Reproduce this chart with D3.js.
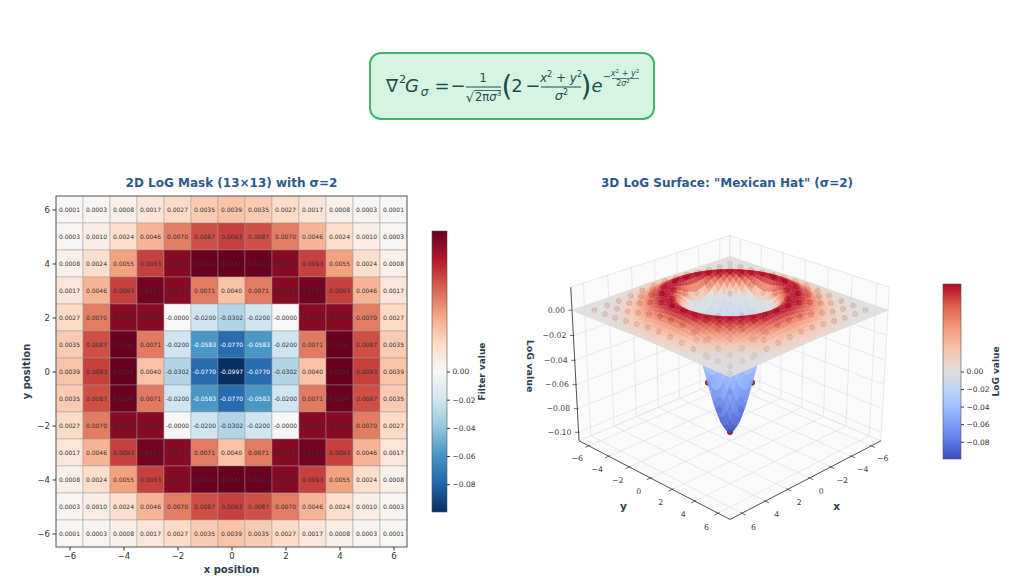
<!DOCTYPE html>
<html><head><meta charset="utf-8">
<script src="https://cdn.jsdelivr.net/npm/d3@7"></script>
<style>
body{margin:0;background:#fff;}
svg{display:block;font-family:"DejaVu Sans",sans-serif;}
</style></head>
<body><svg id="chart" width="1024" height="581"></svg>
<script>
// ---------------- DATA ----------------
const sigma = 2;
const xPositions = [-6,-5,-4,-3,-2,-1,0,1,2,3,4,5,6];
const yPositions = [6,5,4,3,2,1,0,-1,-2,-3,-4,-5,-6]; // rows, top to bottom
const logMask = [
 [0.0001,0.0003,0.0008,0.0017,0.0027,0.0035,0.0039,0.0035,0.0027,0.0017,0.0008,0.0003,0.0001],
 [0.0003,0.0010,0.0024,0.0046,0.0070,0.0087,0.0093,0.0087,0.0070,0.0046,0.0024,0.0010,0.0003],
 [0.0008,0.0024,0.0055,0.0093,0.0123,0.0134,0.0135,0.0134,0.0123,0.0093,0.0055,0.0024,0.0008],
 [0.0017,0.0046,0.0093,0.0131,0.0123,0.0071,0.0040,0.0071,0.0123,0.0131,0.0093,0.0046,0.0017],
 [0.0027,0.0070,0.0123,0.0123,-0.0000,-0.0200,-0.0302,-0.0200,-0.0000,0.0123,0.0123,0.0070,0.0027],
 [0.0035,0.0087,0.0134,0.0071,-0.0200,-0.0583,-0.0770,-0.0583,-0.0200,0.0071,0.0134,0.0087,0.0035],
 [0.0039,0.0093,0.0135,0.0040,-0.0302,-0.0770,-0.0997,-0.0770,-0.0302,0.0040,0.0135,0.0093,0.0039],
 [0.0035,0.0087,0.0134,0.0071,-0.0200,-0.0583,-0.0770,-0.0583,-0.0200,0.0071,0.0134,0.0087,0.0035],
 [0.0027,0.0070,0.0123,0.0123,-0.0000,-0.0200,-0.0302,-0.0200,-0.0000,0.0123,0.0123,0.0070,0.0027],
 [0.0017,0.0046,0.0093,0.0131,0.0123,0.0071,0.0040,0.0071,0.0123,0.0131,0.0093,0.0046,0.0017],
 [0.0008,0.0024,0.0055,0.0093,0.0123,0.0134,0.0135,0.0134,0.0123,0.0093,0.0055,0.0024,0.0008],
 [0.0003,0.0010,0.0024,0.0046,0.0070,0.0087,0.0093,0.0087,0.0070,0.0046,0.0024,0.0010,0.0003],
 [0.0001,0.0003,0.0008,0.0017,0.0027,0.0035,0.0039,0.0035,0.0027,0.0017,0.0008,0.0003,0.0001]
];
// radial profile of the 3D surface (value vs distance from centre)
const surfaceRadius = [0,0.25,0.5,0.75,1,1.25,1.5,1.75,2,2.25,2.5,2.75,3,3.25,3.5,3.75,4,4.25,4.5,4.75,5,5.25,5.5,5.75,6,6.25,6.5,6.75,7,7.25,7.5,7.75,8,8.25,8.5,8.75,9,9.5,10.5];
const surfaceProfile = [-0.0997,-0.0982,-0.0936,-0.0864,-0.0770,-0.0660,-0.0541,-0.0420,-0.0302,-0.0195,-0.0100,-0.0021,0.0040,0.0085,0.0115,0.0130,0.0135,0.0131,0.0122,0.0108,0.0093,0.0078,0.0063,0.0050,0.0039,0.0029,0.0022,0.0016,0.0011,0.0008,0.0005,0.0004,0.0002,0.00015,0.0001,0.00006,0.00004,0.00001,0.0];
const heatTicks = [-6,-4,-2,0,2,4,6];
const colorbarTicks = [0,-0.02,-0.04,-0.06,-0.08];
const zTicks = [0,-0.02,-0.04,-0.06,-0.08,-0.10];
const xyTicks3d = [-6,-4,-2,0,2,4,6];
const titleLeft = "2D LoG Mask (13\u00d713) with \u03c3=2";
const titleRight = "3D LoG Surface: \"Mexican Hat\" (\u03c3=2)";

// ---------------- STYLE / HELPERS ----------------
const svg = d3.select("#chart");
const titleColor = "#2a5a8c", labelColor = "#2c3e50", tickColor = "#333";
const vmin = d3.min(logMask.flat()), vmax = d3.max(logMask.flat());
const rdbuR = d3.piecewise(d3.interpolateRgb, ["#053061","#2166ac","#4393c3","#92c5de","#d1e5f0","#f7f7f7","#fddbc7","#f4a582","#d6604d","#b2182b","#67001f"]);
const coolwarm = d3.piecewise(d3.interpolateRgb, ["#3b4cc0","#6282ea","#8db0fe","#b8d0f9","#dddddd","#f5c4ad","#f49a7b","#de604d","#b40426"]);
const norm = d3.scaleLinear().domain([vmin, 0, vmax]).range([0, 0.5, 1]).clamp(true);

// ---------------- FORMULA ----------------
(function(){
  const fc = "#1d4e4e";
  const F = svg.append("g").attr("fill", fc);
  F.append("rect").attr("x",370).attr("y",53).attr("width",284).attr("height",66).attr("rx",11)
    .attr("fill","#d7f4e3").attr("stroke","#3fb46a").attr("stroke-width",2);
  const t = (x,y,s,size,it,anchor) => F.append("text").attr("x",x).attr("y",y).attr("font-size",size)
     .attr("font-style", it ? "italic" : "normal").attr("text-anchor", anchor || "middle").text(s);
  const bar = (x1,x2,y,w) => F.append("line").attr("x1",x1).attr("x2",x2).attr("y1",y).attr("y2",y).attr("stroke",fc).attr("stroke-width",w);
  t(392,92,"\u2207",18); t(402.5,83,"2",11); t(412,92,"G",18,true); t(424.5,96,"\u03c3",12,true);
  t(442,92,"=",18); t(458,92,"\u2212",18);
  t(483,82,"1",12); bar(466,501,87,1);
  t(470,102,"\u221a",13); bar(474,501,90.5,0.8);
  const d1 = F.append("text").attr("x",475).attr("y",101).attr("font-size",11.5);
  d1.append("tspan").text("2\u03c0"); d1.append("tspan").attr("font-style","italic").text("\u03c3");
  d1.append("tspan").attr("font-size",7.5).attr("dy",-5).text("3");
  t(507,96,"(",28); t(517,92,"2",18); t(533,92,"\u2212",18); t(586,96,")",28);
  const xy = (x,y,size,sup) => { const e = F.append("text").attr("x",x).attr("y",y).attr("font-size",size).attr("text-anchor","middle");
    e.append("tspan").attr("font-style","italic").text("x"); e.append("tspan").attr("font-size",sup).attr("dy",-size*0.4).text("2");
    e.append("tspan").attr("dy",size*0.4).text(" + "); e.append("tspan").attr("font-style","italic").text("y");
    e.append("tspan").attr("font-size",sup).attr("dy",-size*0.4).text("2"); };
  xy(561,82,12,8); bar(541,581,87,1);
  const s2 = F.append("text").attr("x",561.5).attr("y",100).attr("font-size",13).attr("text-anchor","middle");
  s2.append("tspan").attr("font-style","italic").text("\u03c3"); s2.append("tspan").attr("font-size",8).attr("dy",-5).text("2");
  t(597,92,"e",18,true);
  t(607,80,"\u2212",10);
  xy(625,76,8,5.5); bar(612,639,78.5,0.7);
  const s3 = F.append("text").attr("x",623,).attr("y",86).attr("font-size",8).attr("text-anchor","middle");
  s3.append("tspan").text("2"); s3.append("tspan").attr("font-style","italic").text("\u03c3"); s3.append("tspan").attr("font-size",5.5).attr("dy",-3).text("2");
})();

// ---------------- HEATMAP ----------------
const hx = d3.scaleLinear().domain([-6.5,6.5]).range([56,407]);
const hy = d3.scaleLinear().domain([-6.5,6.5]).range([547,196]);
const cells = [];
yPositions.forEach((yv,i) => xPositions.forEach((xv,j) => cells.push({x:xv, y:yv, v:logMask[i][j]})));
const H = svg.append("g");
H.selectAll("rect.cell").data(cells).join("rect").attr("class","cell")
  .attr("x", d => hx(d.x-0.5)).attr("y", d => hy(d.y+0.5))
  .attr("width", d => hx(d.x+0.5)-hx(d.x-0.5)).attr("height", d => hy(d.y-0.5)-hy(d.y+0.5))
  .attr("fill", d => rdbuR(norm(d.v))).attr("stroke","rgba(150,150,150,0.45)").attr("stroke-width",1);
const fmtCell = v => ((v < 0 || Object.is(v,-0)) ? "-" : "") + Math.abs(v).toFixed(4);
H.selectAll("text.val").data(cells).join("text").attr("class","val")
  .attr("x", d => hx(d.x)).attr("y", d => hy(d.y)+2).attr("text-anchor","middle")
  .attr("font-size",6).attr("fill", d => d.v < -0.05 ? "#ffffff" : "#333").text(d => fmtCell(d.v));
H.append("rect").attr("x",hx(-6.5)).attr("y",hy(6.5)).attr("width",hx(6.5)-hx(-6.5)).attr("height",hy(-6.5)-hy(6.5))
  .attr("fill","none").attr("stroke","#666").attr("stroke-width",1);
const styleAxis = (g, fs) => { g.select(".domain").remove(); g.selectAll("text").attr("font-size",fs).attr("fill",tickColor).attr("font-family","DejaVu Sans");
  g.selectAll("line").attr("stroke",tickColor); };
H.append("g").attr("transform","translate(0,547)").call(d3.axisBottom(hx).tickValues(heatTicks).tickSize(3.5).tickPadding(2.5).tickFormat(d3.format("d"))).call(g=>styleAxis(g,8.5));
H.append("g").attr("transform","translate(56,0)").call(d3.axisLeft(hy).tickValues(heatTicks).tickSize(3.5).tickPadding(2.5).tickFormat(d3.format("d"))).call(g=>styleAxis(g,8.5));
svg.append("text").attr("x",231.5).attr("y",187).attr("text-anchor","middle").attr("font-size",12).attr("font-weight","bold").attr("fill",titleColor).text(titleLeft);
svg.append("text").attr("x",231.5).attr("y",573).attr("text-anchor","middle").attr("font-size",10).attr("font-weight","bold").attr("fill",labelColor).text("x position");
svg.append("text").attr("transform","translate(30,371.5) rotate(-90)").attr("text-anchor","middle").attr("font-size",10).attr("font-weight","bold").attr("fill",labelColor).text("y position");

// ---------------- COLORBARS ----------------
const defs = svg.append("defs");
function colorbar(id, cmap, x, w, y0, y1, label, labelX){
  const grad = defs.append("linearGradient").attr("id",id).attr("x1",0).attr("x2",0).attr("y1",1).attr("y2",0);
  d3.range(0,1.0001,0.02).forEach(s => grad.append("stop").attr("offset",s).attr("stop-color",cmap(s)));
  svg.append("rect").attr("x",x).attr("y",y0).attr("width",w).attr("height",y1-y0).attr("fill",`url(#${id})`).attr("stroke","#555").attr("stroke-width",0.6);
  const cs = d3.scaleLinear().domain([vmin,0,vmax]).range([y1,(y0+y1)/2,y0]);
  svg.append("g").attr("transform",`translate(${x+w},0)`).call(d3.axisRight(cs).tickValues(colorbarTicks).tickSize(3).tickPadding(2.5).tickFormat(d3.format(".2f"))).call(g=>styleAxis(g,7.5));
  svg.append("text").attr("transform",`translate(${labelX},${(y0+y1)/2}) rotate(-90)`).attr("text-anchor","middle").attr("font-size",9).attr("font-weight","bold").attr("fill",labelColor).text(label);
}
colorbar("cb1", rdbuR, 432, 15, 231, 512, "Filter value", 485);
colorbar("cb2", coolwarm, 943, 18, 284, 459, "LoG value", 999);

// ---------------- 3D SURFACE ----------------
const L = 7, zLim = [-0.1073, 0.018];
const view = {cx:730, cy:366, k:109.6, elev:24.5*Math.PI/180, azim:45*Math.PI/180, D:12, hz:0.77};
const us = d3.scaleLinear().domain([-L,L]).range([-1,1]);
const ws = d3.scaleLinear().domain(zLim).range([-view.hz, view.hz]);
const ce = Math.cos(view.elev), se = Math.sin(view.elev), ca = Math.cos(view.azim), sa = Math.sin(view.azim);
function proj(x,y,z){
  const u = us(x), v = us(y), w = ws(z);
  const sx = -u*sa + v*ca;
  const sy = -u*se*ca - v*se*sa + w*ce;
  const depth = u*ce*ca + v*ce*sa + w*se;
  const f = view.D/(view.D - depth);
  return [view.cx + view.k*sx*f, view.cy - view.k*sy*f, depth];
}
const S = svg.append("g");
const [zmin, zmax] = zLim;
// panes
const pane = pts => S.append("path").attr("d","M"+pts.map(p=>proj(...p).slice(0,2).join(",")).join("L")+"Z")
   .attr("fill","#fafafa").attr("stroke","#e2e2e2").attr("stroke-width",0.8);
pane([[-L,-L,zmin],[L,-L,zmin],[L,L,zmin],[-L,L,zmin]]);
pane([[L,-L,zmin],[-L,-L,zmin],[-L,-L,zmax],[L,-L,zmax]]);
pane([[-L,-L,zmin],[-L,L,zmin],[-L,L,zmax],[-L,-L,zmax]]);
const seg = (a,b,color,w) => { const p=proj(...a), q=proj(...b);
  S.append("line").attr("x1",p[0]).attr("y1",p[1]).attr("x2",q[0]).attr("y2",q[1]).attr("stroke",color).attr("stroke-width",w); };
const gridC = "#e3e3e3";
xyTicks3d.forEach(t => { seg([t,-L,zmin],[t,L,zmin],gridC,0.8); seg([t,-L,zmin],[t,-L,zmax],gridC,0.8);
  seg([-L,t,zmin],[L,t,zmin],gridC,0.8); seg([-L,t,zmin],[-L,t,zmax],gridC,0.8); });
zTicks.forEach(t => { seg([-L,-L,t],[L,-L,t],gridC,0.8); seg([-L,-L,t],[-L,L,t],gridC,0.8); });
// axis lines
const axC = "#444";
seg([L,-L,zmin],[L,-L,zmax],axC,0.9);
seg([L,-L,zmin],[L,L,zmin],axC,0.9);
seg([-L,L,zmin],[L,L,zmin],axC,0.9);
const t3 = "#445";
xyTicks3d.forEach(t => {
  seg([t,L-0.12,zmin],[t,L+0.3,zmin],axC,0.8);
  seg([L-0.12,t,zmin],[L+0.3,t,zmin],axC,0.8);
  const a = proj(t, L+0.95, zmin), b = proj(L+0.95, t, zmin);
  const fmt = d3.format("d");
  S.append("text").attr("x",a[0]).attr("y",a[1]+10.5).attr("text-anchor","middle").attr("font-size",7.8).attr("fill",t3).text(fmt(t));
  S.append("text").attr("x",b[0]).attr("y",b[1]+10.5).attr("text-anchor","middle").attr("font-size",7.8).attr("fill",t3).text(fmt(t));
});
zTicks.forEach(t => { const p = proj(L,-L,t);
  S.append("line").attr("x1",p[0]-3.5).attr("x2",p[0]+1).attr("y1",p[1]).attr("y2",p[1]).attr("stroke",axC).attr("stroke-width",0.8);
  S.append("text").attr("x",p[0]-7).attr("y",p[1]+2.8).attr("text-anchor","end").attr("font-size",7.8).attr("fill",t3).text(d3.format(".2f")(t)); });
{ const a = proj(0, L+2.2, zmin), b = proj(L+2.2, 0, zmin);
  S.append("text").attr("x",a[0]).attr("y",a[1]+20).attr("text-anchor","middle").attr("font-size",10.5).attr("font-weight","bold").attr("fill",labelColor).text("x");
  S.append("text").attr("x",b[0]).attr("y",b[1]+20).attr("text-anchor","middle").attr("font-size",10.5).attr("font-weight","bold").attr("fill",labelColor).text("y"); }
S.append("text").attr("transform","translate(527,366) rotate(90)").attr("text-anchor","middle").attr("font-size",9.5).attr("font-weight","bold").attr("fill",labelColor).text("LoG value");
// scatter of mask points (drawn beneath the translucent surface)
S.append("g").selectAll("circle").data(cells).join("circle")
  .attr("cx", d => proj(d.x,d.y,d.v)[0]).attr("cy", d => proj(d.x,d.y,d.v)[1]).attr("r",2.6)
  .attr("fill","#b83228").attr("stroke","#2a2a2a").attr("stroke-width",0.8);
// surface
const profile = d3.scaleLinear().domain(surfaceRadius).range(surfaceProfile);
const N = 50;
const grid = d3.range(N+1).map(i => -L + 2*L*i/N);
const quads = [];
for (let i=0;i<N;i++) for (let j=0;j<N;j++){
  const corners = [[grid[i],grid[j]],[grid[i+1],grid[j]],[grid[i+1],grid[j+1]],[grid[i],grid[j+1]]]
     .map(([x,y]) => [x,y,profile(Math.hypot(x,y))]);
  const pp = corners.map(c => proj(...c));
  quads.push({pts:pp, depth:d3.mean(pp,p=>p[2]), z:d3.mean(corners,c=>c[2])});
}
quads.sort((a,b) => a.depth - b.depth);
const surf = S.append("g").attr("opacity",0.92);
surf.selectAll("path").data(quads).join("path")
  .attr("d", q => "M"+q.pts.map(p=>p[0].toFixed(2)+","+p[1].toFixed(2)).join("L")+"Z")
  .attr("fill", q => coolwarm(norm(q.z))).attr("stroke", q => coolwarm(norm(q.z))).attr("stroke-width",0.35);
svg.append("text").attr("x",727).attr("y",187).attr("text-anchor","middle").attr("font-size",12).attr("font-weight","bold").attr("fill",titleColor).text(titleRight);
</script>
</body></html>
